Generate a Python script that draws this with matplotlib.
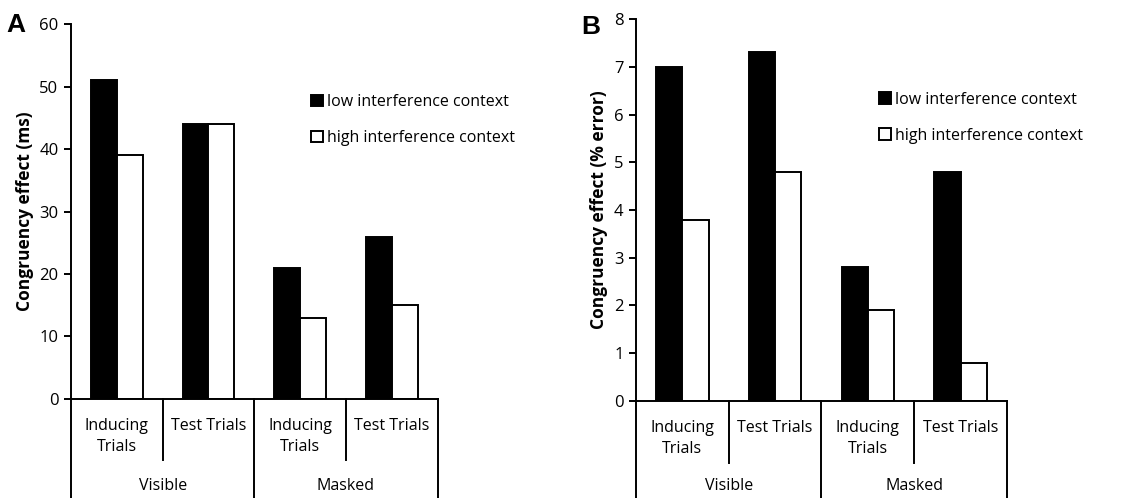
import numpy as np
import matplotlib.pyplot as plt

plt.rcParams['font.family'] = ['Open Sans', 'DejaVu Sans']

fontsize = 11.5

# -----------------------------------------------------------------------
# Data
# -----------------------------------------------------------------------
conditions = ['Inducing\nTrials', 'Test Trials', 'Inducing\nTrials', 'Test Trials']
groups = ['Visible', 'Masked']
series_names = ['low interference context', 'high interference context']

rt_low = [51, 44, 21, 26]
rt_high = [39, 44, 13, 15]

err_low = [7.0, 7.3, 2.8, 4.8]
err_high = [3.8, 4.8, 1.9, 0.8]


def draw_panel(ax, low, high, ymax, ystep, ylabel, legend_anchor, group_y):
    x = np.arange(len(conditions)) + 0.5
    w = 0.283
    ax.bar(x - w / 2, low, width=w, color='black', edgecolor='black',
           linewidth=1.4, label=series_names[0], zorder=2)
    ax.bar(x + w / 2, high, width=w, color='white', edgecolor='black',
           linewidth=1.4, label=series_names[1], zorder=2)

    ax.set_xlim(0, len(conditions))
    ax.set_ylim(0, ymax)
    ax.set_yticks(np.arange(0, ymax + 0.01, ystep))
    ax.set_xticks([])
    for s in ['top', 'right']:
        ax.spines[s].set_visible(False)
    for s in ['left', 'bottom']:
        ax.spines[s].set_linewidth(1.4)
    ax.tick_params(axis='y', direction='out', length=5, width=1.4,
                   labelsize=12, pad=4)
    ax.set_ylabel(ylabel, fontsize=12.5, fontweight='bold', labelpad=4)

    # category grid below the axis
    tr = ax.get_xaxis_transform()
    for xi in [1, 3]:
        ax.plot([xi, xi], [0, -0.163], color='black', lw=1.4,
                transform=tr, clip_on=False)
    for xi in [0, 2, 4]:
        ax.plot([xi, xi], [0, -0.30], color='black', lw=1.4,
                transform=tr, clip_on=False)
    for xi, lab in zip(x, conditions):
        ax.text(xi, -0.05, lab, transform=tr, ha='center', va='top',
                fontsize=fontsize, linespacing=1.45)
    for gi, lab in enumerate(groups):
        ax.text(2 * gi + 1, group_y, lab, transform=tr, ha='center',
                va='center', fontsize=fontsize)

    ax.legend(loc='upper left', bbox_to_anchor=legend_anchor, frameon=False,
              fontsize=fontsize, handlelength=0.75, handleheight=0.75,
              handletextpad=0.25, labelspacing=1.25, borderpad=0,
              borderaxespad=0)


fig = plt.figure(figsize=(11.28, 4.98), dpi=100)
ax1 = fig.add_axes([0.0629, 0.1988, 0.3251, 0.753])
ax2 = fig.add_axes([0.5638, 0.1948, 0.3289, 0.767])

draw_panel(ax1, rt_low, rt_high, 60, 10, 'Congruency effect (ms)',
           (0.655, 0.813), -0.232)
draw_panel(ax2, err_low, err_high, 8, 1, 'Congruency effect (% error)',
           (0.655, 0.81), -0.222)

fig.text(0.006, 0.95, 'A', fontsize=19, fontweight='bold',
         family='Liberation Sans', va='center')
fig.text(0.515, 0.946, 'B', fontsize=19, fontweight='bold',
         family='Liberation Sans', va='center')

fig.savefig('out.png', dpi=100)
